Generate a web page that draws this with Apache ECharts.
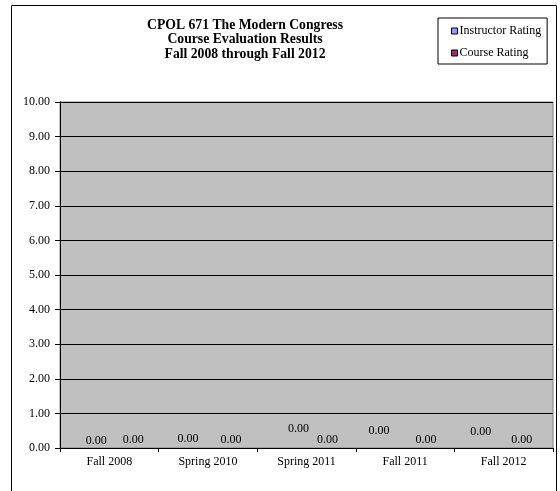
<!DOCTYPE html>
<html>
<head>
<meta charset="utf-8">
<script src="https://cdn.jsdelivr.net/npm/echarts@6/dist/echarts.min.js"></script>
<style>
html,body{margin:0;padding:0;background:#fff;}
#chart{width:560px;height:491px;}
</style>
</head>
<body>
<div id="chart"></div>
<script>
const titleLines = ['CPOL 671 The Modern Congress', 'Course Evaluation Results', 'Fall 2008 through Fall 2012'];
const categories = ['Fall 2008', 'Spring 2010', 'Spring 2011', 'Fall 2011', 'Fall 2012'];
const seriesNames = ['Instructor Rating', 'Course Rating'];
const instructorRating = [0, 0, 0, 0, 0];
const courseRating = [0, 0, 0, 0, 0];
const yMin = 0, yMax = 10, yStep = 1;

const FONT = '"Liberation Serif", "Times New Roman", serif';
const chart = echarts.init(document.getElementById('chart'), null, {renderer: 'canvas'});

// label nudges (style only), mimicking the staggered labels of the original
const nudgeA = [[9, 4], [2, 2], [14, -8], [-4, -6], [-1, -5]];
const nudgeB = [[2, 2.5], [1, 2.5], [-1, 2.5], [-1, 2.5], [-4, 2.5]];

function buildData(values, nudges) {
  return values.map((v, i) => ({value: v, label: {offset: nudges[i]}}));
}

const labelStyle = {
  show: true, position: 'top', distance: 5,
  fontFamily: FONT, fontSize: 12, color: '#000',
  formatter: p => Number(p.value).toFixed(2)
};

chart.setOption({
  animation: false,
  backgroundColor: '#fff',
  title: {
    text: titleLines.join('\n'),
    left: 240, top: 13, textAlign: 'center',
    textStyle: {fontFamily: FONT, fontSize: 13.7, fontWeight: 'bold', color: '#000', lineHeight: 14.5}
  },
  legend: {
    orient: 'vertical', left: 438, top: 18,
    width: 108,
    padding: [7, 6, 5, 13],
    itemGap: 10, itemWidth: 6, itemHeight: 6,
    icon: 'rect',
    borderColor: '#000', borderWidth: 1,
    textStyle: {fontFamily: FONT, fontSize: 12, color: '#000', padding: [0, 0, 0, -3]},
    itemStyle: {borderColor: '#000', borderWidth: 1},
    data: seriesNames
  },
  graphic: [{
    type: 'rect', silent: true, z: -1,
    shape: {x: 11.5, y: 5.5, width: 545, height: 520},
    style: {fill: 'none', stroke: '#000', lineWidth: 1}
  }],
  grid: {
    left: 60, right: 7, top: 102, bottom: 43,
    show: true, backgroundColor: '#c0c0c0', borderColor: '#808080', borderWidth: 1
  },
  xAxis: {
    type: 'category', data: categories,
    axisLine: {lineStyle: {color: '#000', width: 1}},
    axisTick: {show: true, length: 4, lineStyle: {color: '#000'}},
    axisLabel: {fontFamily: FONT, fontSize: 12, color: '#000', margin: 8},
    splitLine: {show: false}
  },
  yAxis: {
    type: 'value', min: yMin, max: yMax, interval: yStep,
    axisLine: {show: true, lineStyle: {color: '#000', width: 1}},
    axisTick: {show: true, length: 5, lineStyle: {color: '#000'}},
    axisLabel: {fontFamily: FONT, fontSize: 12, color: '#000', margin: 10,
      formatter: v => v.toFixed(2)},
    splitLine: {show: true, lineStyle: {color: '#000', width: 1}}
  },
  series: [
    {
      name: seriesNames[0], type: 'bar', barWidth: 20, barGap: '120%',
      itemStyle: {color: '#9999ff', borderColor: '#000', borderWidth: 0},
      label: labelStyle,
      data: buildData(instructorRating, nudgeA)
    },
    {
      name: seriesNames[1], type: 'bar', barWidth: 20, barGap: '120%',
      itemStyle: {color: '#993366', borderColor: '#000', borderWidth: 0},
      label: labelStyle,
      data: buildData(courseRating, nudgeB)
    }
  ]
});
</script>
</body>
</html>
